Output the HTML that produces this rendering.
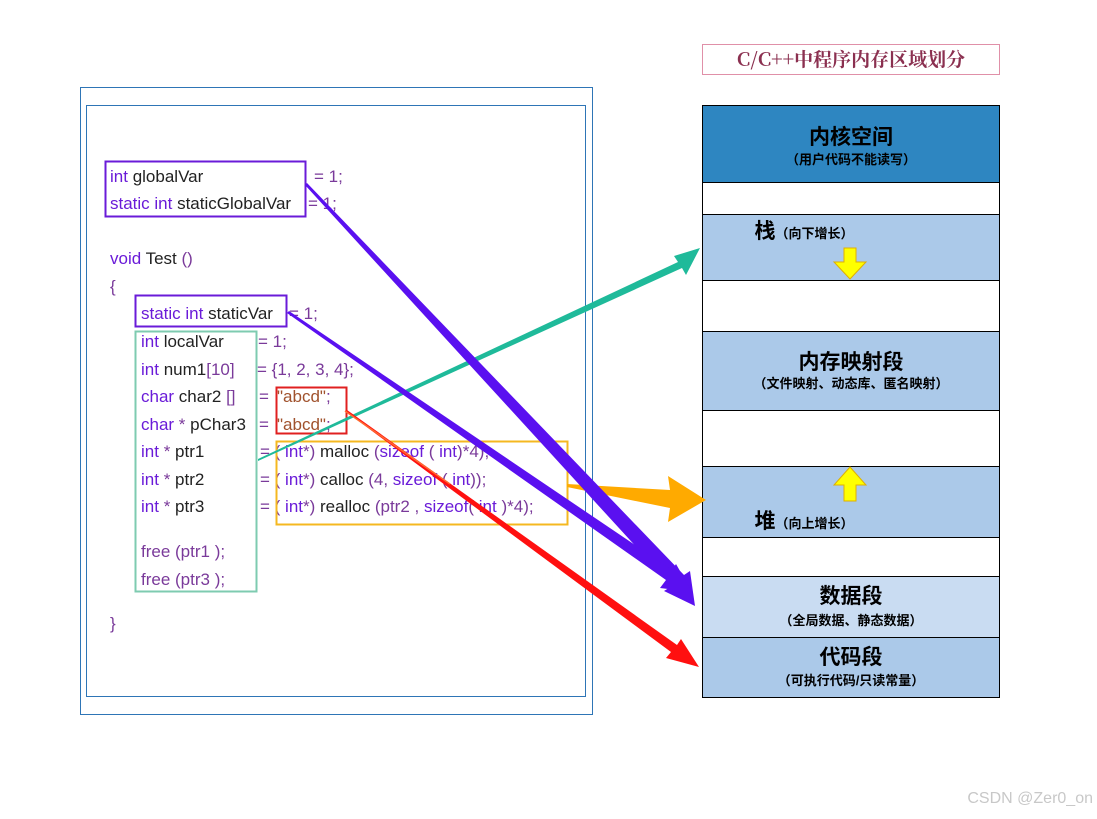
<!DOCTYPE html>
<html><head><meta charset="utf-8"><style>
body{margin:0;background:#fff}
svg text{font-family:"Liberation Sans","Noto Sans CJK SC",sans-serif}
.k{fill:#6a1bd8}.d{fill:#222}.v{fill:#7a3a9a}.s{fill:#a0522d}
.c{font-size:17px}
.cn{font-family:"Noto Serif CJK SC","Noto Sans CJK SC",serif;font-weight:bold}
</style></head><body>
<svg width="1097" height="814" xmlns="http://www.w3.org/2000/svg">
<rect x="80.5" y="87.5" width="512" height="627" fill="none" stroke="#2e75b6"/>
<rect x="86.5" y="105.5" width="499" height="591" fill="none" stroke="#2e75b6"/>
<g class="c">
<text x="110" y="182"><tspan class="k">int</tspan><tspan class="d"> globalVar</tspan><tspan class="v" x="314">= 1;</tspan></text>
<text x="110" y="209"><tspan class="k">static int</tspan><tspan class="d"> staticGlobalVar</tspan><tspan class="v" x="308">= 1;</tspan></text>
<text x="110" y="264"><tspan class="k">void</tspan><tspan class="d"> Test </tspan><tspan class="v">()</tspan></text>
<text x="110" y="292" class="v">{</text>
<text x="141" y="319"><tspan class="k">static int</tspan><tspan class="d"> staticVar</tspan><tspan class="v" x="289">= 1;</tspan></text>
<text x="141" y="347"><tspan class="k">int</tspan><tspan class="d"> localVar</tspan><tspan class="v" x="258">= 1;</tspan></text>
<text x="141" y="375"><tspan class="k">int</tspan><tspan class="d"> num1</tspan><tspan class="v">[10]</tspan><tspan class="v" x="257">= {1, 2, 3, 4};</tspan></text>
<text x="141" y="402"><tspan class="k">char</tspan><tspan class="d"> char2 </tspan><tspan class="v">[]</tspan><tspan class="v" x="259">= </tspan><tspan class="s" x="277">"abcd"</tspan><tspan class="v">;</tspan></text>
<text x="141" y="430"><tspan class="k">char</tspan><tspan class="v"> * </tspan><tspan class="d">pChar3</tspan><tspan class="v" x="259">= </tspan><tspan class="s" x="277">"abcd"</tspan><tspan class="v">;</tspan></text>
<text x="141" y="457"><tspan class="k">int</tspan><tspan class="v"> * </tspan><tspan class="d">ptr1</tspan><tspan class="v" x="260">= ( </tspan><tspan class="k">int</tspan><tspan class="v">*) </tspan><tspan class="d">malloc </tspan><tspan class="v">(</tspan><tspan class="k">sizeof</tspan><tspan class="v"> ( </tspan><tspan class="k">int</tspan><tspan class="v">)*4);</tspan></text>
<text x="141" y="485"><tspan class="k">int</tspan><tspan class="v"> * </tspan><tspan class="d">ptr2</tspan><tspan class="v" x="260">= ( </tspan><tspan class="k">int</tspan><tspan class="v">*) </tspan><tspan class="d">calloc </tspan><tspan class="v">(4, </tspan><tspan class="k">sizeof</tspan><tspan class="v"> ( </tspan><tspan class="k">int</tspan><tspan class="v">));</tspan></text>
<text x="141" y="512"><tspan class="k">int</tspan><tspan class="v"> * </tspan><tspan class="d">ptr3</tspan><tspan class="v" x="260">= ( </tspan><tspan class="k">int</tspan><tspan class="v">*) </tspan><tspan class="d">realloc </tspan><tspan class="v">(ptr2 , </tspan><tspan class="k">sizeof</tspan><tspan class="v">( </tspan><tspan class="k">int</tspan><tspan class="v"> )*4);</tspan></text>
<text x="141" y="557" class="v">free (ptr1 );</text>
<text x="141" y="585" class="v">free (ptr3 );</text>
<text x="110" y="629" class="v">}</text>
</g>
<rect x="105.5" y="161.5" width="200" height="55" fill="none" stroke="#6a1bd8" stroke-width="2"/>
<rect x="135.5" y="295.5" width="151" height="31" fill="none" stroke="#6a1bd8" stroke-width="2"/>
<rect x="135.5" y="331.5" width="121" height="260" fill="none" stroke="#7ecbb0" stroke-width="2"/>
<rect x="276.5" y="387.5" width="70" height="46" fill="none" stroke="#e02020" stroke-width="2"/>
<rect x="276.5" y="441.5" width="291" height="83" fill="none" stroke="#f5b820" stroke-width="2"/>

<!-- right panel -->
<rect x="702.5" y="44.5" width="297" height="30" fill="#fff" stroke="#e090a8"/>
<text x="851" y="66" text-anchor="middle" font-size="19" fill="#8b3050" class="cn">C/C++中程序内存区域划分</text>
<g stroke="#000" stroke-width="1">
<rect x="702.5" y="105.5" width="297" height="77" fill="#2e86c1"/>
<rect x="702.5" y="182.5" width="297" height="32" fill="#fff"/>
<rect x="702.5" y="214.5" width="297" height="66" fill="#abc9e9"/>
<rect x="702.5" y="280.5" width="297" height="51" fill="#fff"/>
<rect x="702.5" y="331.5" width="297" height="79" fill="#abc9e9"/>
<rect x="702.5" y="410.5" width="297" height="56" fill="#fff"/>
<rect x="702.5" y="466.5" width="297" height="71" fill="#abc9e9"/>
<rect x="702.5" y="537.5" width="297" height="39" fill="#fff"/>
<rect x="702.5" y="576.5" width="297" height="61" fill="#c9dcf2"/>
<rect x="702.5" y="637.5" width="297" height="60" fill="#abc9e9"/>
</g>
<g fill="#000" text-anchor="middle" class="cn">
<text x="851" y="144" font-size="21">内核空间</text>
<text x="851" y="164" font-size="13">（用户代码不能读写）</text>
<text x="804" y="238" font-size="21">栈<tspan font-size="13">（向下增长）</tspan></text>
<text x="851" y="369" font-size="21">内存映射段</text>
<text x="851" y="388" font-size="13">（文件映射、动态库、匿名映射）</text>
<text x="804" y="528" font-size="21">堆<tspan font-size="13">（向上增长）</tspan></text>
<text x="851" y="603" font-size="21">数据段</text>
<text x="851" y="625" font-size="13">（全局数据、静态数据）</text>
<text x="851" y="664" font-size="21">代码段</text>
<text x="851" y="685" font-size="13">（可执行代码/只读常量）</text>
</g>
<polygon points="844,248 856,248 856,262 866,262 850,279 834,262 844,262" fill="#ffff00" stroke="#e0b000"/>
<polygon points="844,501 856,501 856,485 866,485 850,467 834,485 844,485" fill="#ffff00" stroke="#e0b000"/>

<!-- arrows -->
<polygon points="258,461 258,459 678,262 674,256 700,248 686,275 682,268" fill="#1fba9a"/>
<polygon points="567,484 670,490 668,476 706,500 668,522 670,508 567,487" fill="#ffaa00"/>
<polygon points="305,185 307,183 684,575 690,571 695,606 664,591 672,586" fill="#5a10f0"/>
<polygon points="287,313 289,311 672,570 676,564 692,592 660,588 666,580" fill="#5a10f0"/>
<polygon points="345,411 347,410 677,645 681,639 699,667 666,658 671,652" fill="#ff1010"/>
<line x1="345" y1="411" x2="450" y2="484" stroke="#ff6a30" stroke-width="1.5"/>

<text x="1093" y="803" text-anchor="end" font-size="16" fill="#c8c8c8">CSDN @Zer0_on</text>
</svg>
</body></html>
